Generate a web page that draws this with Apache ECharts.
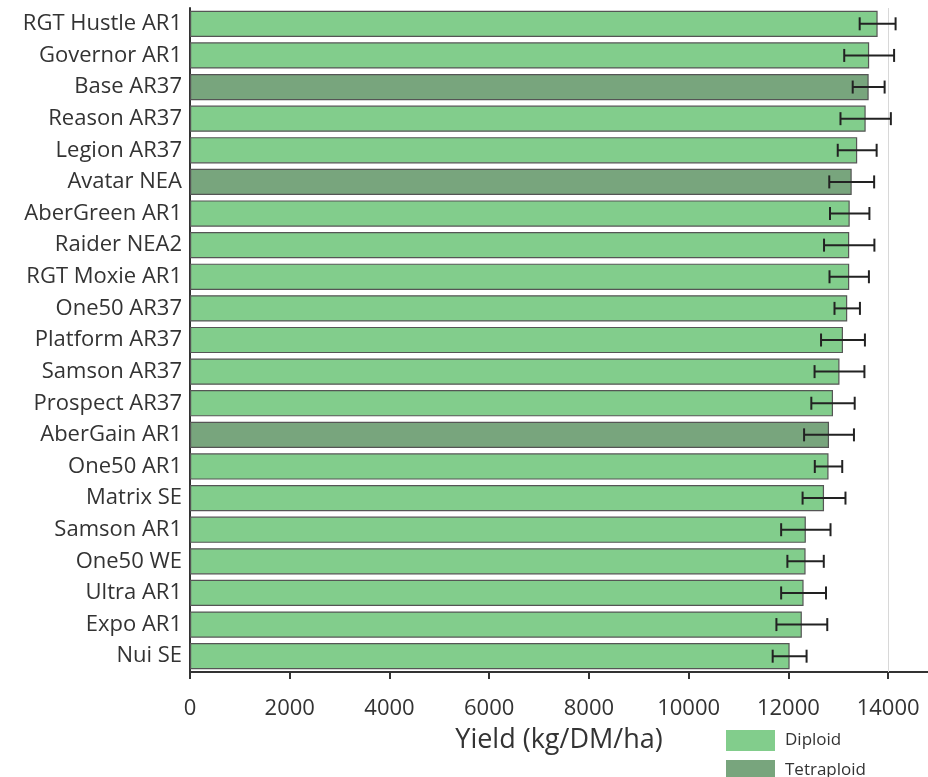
<!DOCTYPE html>
<html>
<head>
<meta charset="utf-8">
<script src="https://cdn.jsdelivr.net/npm/echarts@6/dist/echarts.min.js"></script>
<style>
html,body{margin:0;padding:0;background:#fff;}
#chart{width:928px;height:777px;}
</style>
</head>
<body>
<div id="chart"></div>
<script>
const categories = ["RGT Hustle AR1","Governor AR1","Base AR37","Reason AR37","Legion AR37","Avatar NEA","AberGreen AR1","Raider NEA2","RGT Moxie AR1","One50 AR37","Platform AR37","Samson AR37","Prospect AR37","AberGain AR1","One50 AR1","Matrix SE","Samson AR1","One50 WE","Ultra AR1","Expo AR1","Nui SE"];
const yieldValues = [13790,13620,13610,13550,13380,13270,13230,13220,13220,13180,13095,13025,12895,12815,12805,12715,12350,12345,12305,12270,12025];
const errorValues = [360,500,320,505,390,450,395,505,395,255,440,500,435,500,275,430,495,365,450,510,340];
const ploidy = ["Diploid","Diploid","Tetraploid","Diploid","Diploid","Tetraploid","Diploid","Diploid","Diploid","Diploid","Diploid","Diploid","Diploid","Tetraploid","Diploid","Diploid","Diploid","Diploid","Diploid","Diploid","Diploid"];
const xTicks = [0,2000,4000,6000,8000,10000,12000,14000];

const diploidData = yieldValues.map((v,i)=> ploidy[i]==="Diploid" ? v : '-');
const tetraploidData = yieldValues.map((v,i)=> ploidy[i]==="Tetraploid" ? v : '-');
const errData = yieldValues.map((v,i)=>[v-errorValues[i], v+errorValues[i], i]);

const FONT = "Open Sans";
const legendBase = {
  left:721,itemWidth:49,itemHeight:21,icon:'rect',
  itemStyle:{borderWidth:0},
  textStyle:{fontFamily:FONT,fontSize:17,color:'#333',padding:[0,0,0,5]}
};
const chart = echarts.init(document.getElementById('chart'), null, {renderer:'canvas'});
chart.setOption({
  animation:false,
  backgroundColor:'#fff',
  textStyle:{fontFamily:FONT},
  grid:{left:190,right:0,top:8,bottom:105,containLabel:false},
  legend:[
    Object.assign({}, legendBase, {top:725, data:['Diploid']}),
    Object.assign({}, legendBase, {top:755, data:['Tetraploid']})
  ],
  xAxis:{
    type:'value',min:0,max:14800,interval:2000,
    name:'Yield (kg/DM/ha)',nameLocation:'middle',nameGap:55,
    nameTextStyle:{fontFamily:FONT,fontSize:27,color:'#333'},
    axisLine:{show:true,lineStyle:{color:'#333',width:2}},
    axisTick:{show:true,length:7,lineStyle:{color:'#333',width:2},customValues:xTicks},
    axisLabel:{fontFamily:FONT,fontSize:22,color:'#333',margin:26,customValues:xTicks,
      formatter:function(v){return String(v);}},
    splitLine:{show:false}
  },
  yAxis:{
    type:'category',data:categories,inverse:true,
    axisLine:{show:true,lineStyle:{color:'#333',width:2}},
    axisTick:{show:false},
    axisLabel:{fontFamily:FONT,fontSize:22,color:'#333',margin:8}
  },
  series:[
    {
      name:'Diploid',type:'bar',stack:'y',data:diploidData,barCategoryGap:'17%',
      itemStyle:{color:'#82cd8c',borderColor:'#555',borderWidth:1.2},
      markLine:{silent:true,symbol:'none',label:{show:false},
        lineStyle:{color:'#d8d8d8',width:1,type:'solid'},data:[{xAxis:14000}]}
    },
    {
      name:'Tetraploid',type:'bar',stack:'y',data:tetraploidData,barCategoryGap:'17%',
      itemStyle:{color:'#78a57d',borderColor:'#555',borderWidth:1.2}
    },
    {
      type:'custom',name:'err',data:errData,z:10,
      encode:{x:[0,1],y:2},
      renderItem:function(params,api){
        const lo=api.coord([api.value(0),api.value(2)]);
        const hi=api.coord([api.value(1),api.value(2)]);
        const h=13;
        const style={stroke:'#222',lineWidth:2};
        return {type:'group',children:[
          {type:'line',shape:{x1:lo[0],y1:lo[1],x2:hi[0],y2:hi[1]},style:style},
          {type:'line',shape:{x1:lo[0],y1:lo[1]-h/2,x2:lo[0],y2:lo[1]+h/2},style:style},
          {type:'line',shape:{x1:hi[0],y1:hi[1]-h/2,x2:hi[0],y2:hi[1]+h/2},style:style}
        ]};
      }
    }
  ]
});
</script>
</body>
</html>
